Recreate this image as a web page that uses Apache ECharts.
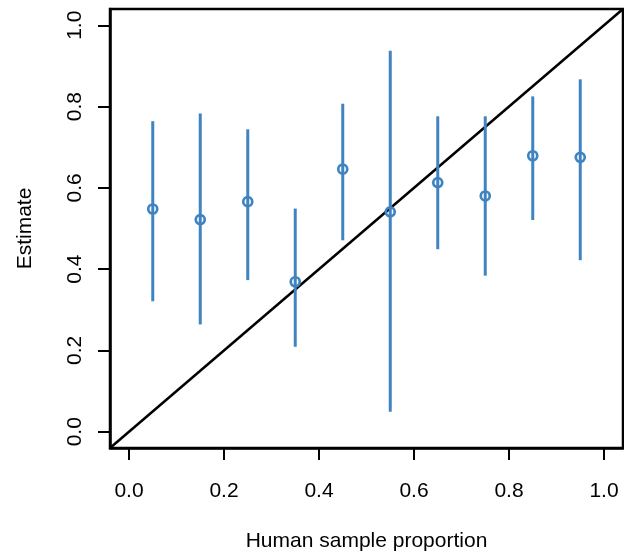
<!DOCTYPE html>
<html>
<head>
<meta charset="utf-8">
<script src="https://cdn.jsdelivr.net/npm/echarts@6/dist/echarts.min.js"></script>
<style>html,body{margin:0;padding:0;background:#fff}#c{width:624px;height:554px}</style>
</head>
<body>
<div id="c"></div>
<script>
var xValues = [0.05, 0.15, 0.25, 0.35, 0.45, 0.55, 0.65, 0.75, 0.85, 0.95];
var estimates = [0.548, 0.522, 0.566, 0.369, 0.646, 0.541, 0.613, 0.580, 0.679, 0.675];
var lower = [0.321, 0.264, 0.373, 0.209, 0.471, 0.049, 0.449, 0.384, 0.521, 0.422];
var upper = [0.764, 0.783, 0.744, 0.549, 0.807, 0.937, 0.776, 0.776, 0.825, 0.867];
var tickValues = [0, 0.2, 0.4, 0.6, 0.8, 1.0];
var axisMin = -0.04, axisMax = 1.04;
var refLine = [[axisMin, axisMin], [axisMax, axisMax]];

var blue = '#3f84c0';
var font = '"Liberation Sans", Arial, sans-serif';

var pts = xValues.map(function (x, i) { return [x, estimates[i]]; });
var bars = xValues.map(function (x, i) { return [x, lower[i], upper[i]]; });

var chart = echarts.init(document.getElementById('c'), null, {renderer: 'canvas'});
chart.setOption({
  animation: false,
  backgroundColor: '#fff',
  grid: {left: 110, top: 9, right: 1, bottom: 106, outerBoundsMode: 'none', containLabel: false,
    show: true, borderColor: '#000', borderWidth: 2.5, backgroundColor: 'transparent'},
  xAxis: {
    type: 'value', min: axisMin, max: axisMax,
    axisLine: {show: true, onZero: false, lineStyle: {color: '#000', width: 2.5}},
    splitLine: {show: false},
    axisTick: {show: true, inside: false, length: 12, lineStyle: {color: '#000', width: 2}, customValues: tickValues},
    axisLabel: {customValues: tickValues, margin: 33, color: '#000', fontSize: 21, fontFamily: font,
      formatter: function (v) { return v.toFixed(1); }},
    name: 'Human sample proportion', nameLocation: 'middle', nameGap: 83,
    nameTextStyle: {color: '#000', fontSize: 21, fontFamily: font}
  },
  yAxis: {
    type: 'value', min: axisMin, max: axisMax,
    axisLine: {show: true, onZero: false, lineStyle: {color: '#000', width: 2.5}},
    splitLine: {show: false},
    axisTick: {show: true, inside: false, length: 12, lineStyle: {color: '#000', width: 2}, customValues: tickValues},
    axisLabel: {customValues: tickValues, rotate: 90, margin: 24, color: '#000', fontSize: 21, fontFamily: font,
      formatter: function (v) { return v.toFixed(1); }},
    name: 'Estimate', nameLocation: 'middle', nameGap: 74, nameRotate: 90,
    nameTextStyle: {color: '#000', fontSize: 21, fontFamily: font}
  },
  series: [
    {
      type: 'line', data: refLine, symbol: 'none', silent: true,
      lineStyle: {color: '#000', width: 2.5}, z: 1
    },
    {
      type: 'custom', data: bars, z: 2,
      renderItem: function (params, api) {
        var p1 = api.coord([api.value(0), api.value(1)]);
        var p2 = api.coord([api.value(0), api.value(2)]);
        return {type: 'line', shape: {x1: p1[0], y1: p1[1], x2: p2[0], y2: p2[1]},
          style: {stroke: blue, lineWidth: 3}};
      },
      encode: {x: 0, y: [1, 2]}
    },
    {
      type: 'scatter', data: pts, symbol: 'circle', symbolSize: 9, z: 3,
      itemStyle: {color: 'rgba(0,0,0,0)', borderColor: blue, borderWidth: 2.7, opacity: 1}
    }
  ]
});
</script>
</body>
</html>
